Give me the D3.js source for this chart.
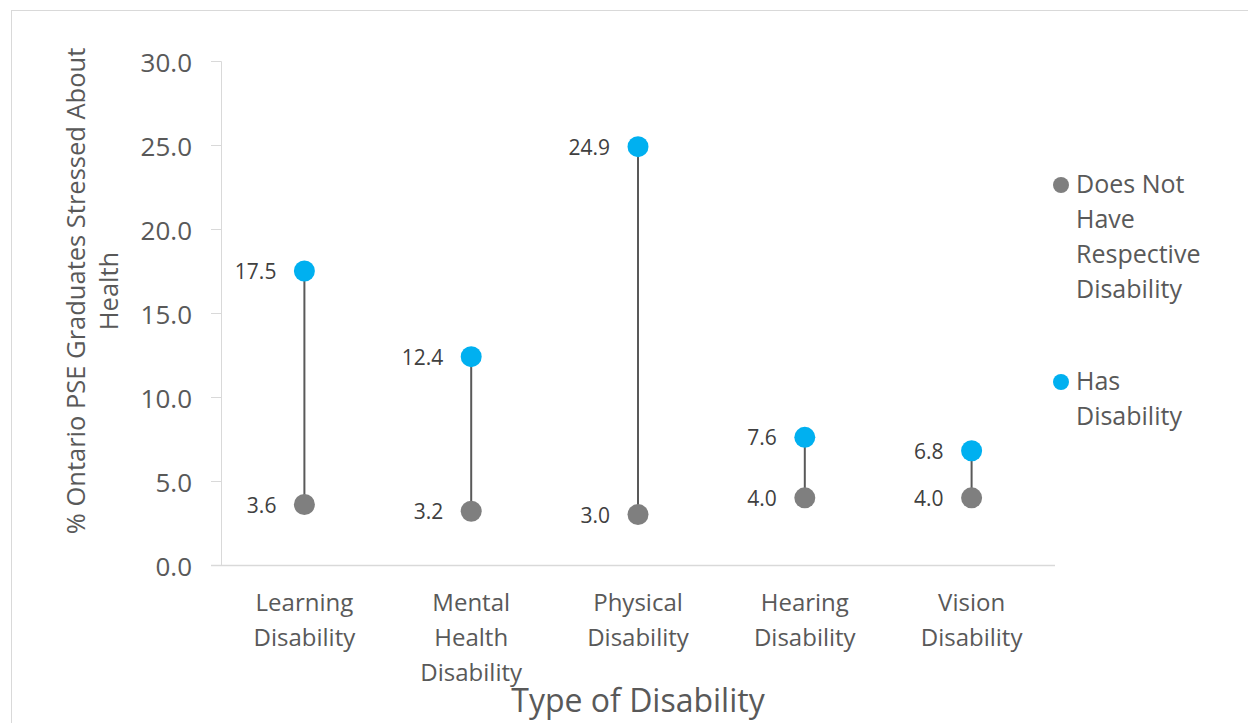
<!DOCTYPE html>
<html><head><meta charset="utf-8">
<script src="https://cdn.jsdelivr.net/npm/d3@7"></script>
<style>body{margin:0;background:#fff;} text{font-family:"Open Sans", sans-serif;}</style>
</head><body>
<svg id="c" width="1248" height="723"></svg>
<script>
const categories = [["Learning","Disability"],["Mental","Health","Disability"],["Physical","Disability"],["Hearing","Disability"],["Vision","Disability"]];
const categoryKeys = ["Learning Disability","Mental Health Disability","Physical Disability","Hearing Disability","Vision Disability"];
const doesNotHave = [3.6, 3.2, 3.0, 4.0, 4.0];
const hasDisability = [17.5, 12.4, 24.9, 7.6, 6.8];
const yTicks = [0, 5, 10, 15, 20, 25, 30];
const legendItems = [{lines:["Does Not","Have","Respective","Disability"], color:"#7f7f7f"},{lines:["Has","Disability"], color:"#00b0f0"}];

const svg = d3.select("#c");
svg.append("rect").attr("x",11.5).attr("y",10.5).attr("width",1250).attr("height",720).attr("fill","none").attr("stroke","#d9d9d9");

const x = d3.scaleBand().domain(categoryKeys).range([221,1055]);
const y = d3.scaleLinear().domain([0,30]).range([565,61]);

// y axis
const ya = svg.append("g").attr("transform","translate(221,0)").call(d3.axisLeft(y).tickValues(yTicks).tickFormat(d3.format(".1f")).tickSize(10).tickPadding(19));
ya.select(".domain").attr("stroke","#d9d9d9");
ya.selectAll(".tick line").attr("stroke","#d9d9d9");
ya.selectAll(".tick text").attr("fill","#595959").attr("dy",null).attr("y",10).style("font-size","26px");

// x axis line
svg.append("line").attr("x1",211).attr("x2",1055).attr("y1",565.5).attr("y2",565.5).attr("stroke","#d9d9d9").attr("stroke-width",1.5);

const cx = k => x(k)+x.bandwidth()/2;

// x labels
categoryKeys.forEach((k,i)=>{
  const t = svg.append("text").attr("text-anchor","middle").attr("fill","#595959").style("font-size","24px");
  categories[i].forEach((l,j)=>t.append("tspan").attr("x",cx(k)).attr("y",611+j*35).text(l));
});

// lines
categoryKeys.forEach((k,i)=>{
  svg.append("line").attr("x1",cx(k)).attr("x2",cx(k)).attr("y1",y(doesNotHave[i])).attr("y2",y(hasDisability[i])).attr("stroke","#595959").attr("stroke-width",2);
});
[[doesNotHave,"#7f7f7f"],[hasDisability,"#00b0f0"]].forEach(([vals,col])=>{
  categoryKeys.forEach((k,i)=>{
    svg.append("circle").attr("cx",cx(k)).attr("cy",y(vals[i])).attr("r",10.5).attr("fill",col);
    svg.append("text").attr("x",cx(k)-28).attr("y",y(vals[i])+8).attr("text-anchor","end").attr("fill","#404040").style("font-size","21px").text(vals[i].toFixed(1));
  });
});

// axis titles
const yt = svg.append("text").attr("transform","translate(85,291) rotate(-90)").attr("text-anchor","middle").attr("fill","#595959").style("font-size","25.5px");
yt.append("tspan").attr("x",0).attr("y",0).text("% Ontario PSE Graduates Stressed About");
yt.append("tspan").attr("x",0).attr("y",33).text("Health");
svg.append("text").attr("x",638).attr("y",712).attr("text-anchor","middle").attr("fill","#595959").style("font-size","32px").text("Type of Disability");

// legend
const legendY = [185, 382];
legendItems.forEach((it,idx)=>{
  const ly = legendY[idx];
  svg.append("circle").attr("cx",1061).attr("cy",ly).attr("r",8).attr("fill",it.color);
  const t = svg.append("text").attr("fill","#595959").style("font-size","25px");
  it.lines.forEach((l,j)=>t.append("tspan").attr("x",1076).attr("y",ly+8+j*35).text(l));
});
</script>
</body></html>
